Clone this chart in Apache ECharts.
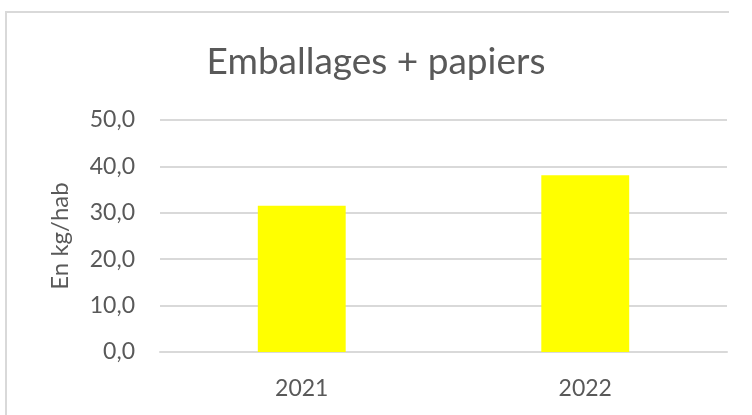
<!DOCTYPE html>
<html>
<head>
<meta charset="utf-8">
<script src="https://cdn.jsdelivr.net/npm/echarts@6/dist/echarts.min.js"></script>
<style>
  html, body { margin: 0; padding: 0; background: #fff; }
  #frame {
    position: absolute; left: 5px; top: 11px; width: 722px; height: 410px;
    border-left: 2px solid #d9d9d9; border-top: 2px solid #d9d9d9;
  }
  #chart { position: absolute; left: 0; top: 0; width: 752px; height: 415px; }
</style>
</head>
<body>
<div id="frame"></div>
<div id="chart"></div>
<script>
const years = ['2021', '2022'];
const kgPerHab = [31.5, 38.1];

const fmt = v => v.toFixed(1).replace('.', ',');

const chart = echarts.init(document.getElementById('chart'));
chart.setOption({
  animation: false,
  title: {
    text: 'Emballages + papiers',
    left: 'center',
    top: 39,
    textStyle: { fontFamily: 'Lato', fontSize: 37, fontWeight: 'normal', color: '#595959' }
  },
  grid: { left: 160, right: 25, top: 120, bottom: 63 },
  xAxis: {
    type: 'category',
    data: years,
    axisLine: { lineStyle: { color: '#d9d9d9', width: 2 } },
    axisTick: { show: false },
    axisLabel: { fontFamily: 'Lato', fontSize: 23, color: '#595959', margin: 25 }
  },
  yAxis: {
    type: 'value',
    min: 0,
    max: 50,
    interval: 10,
    name: 'En kg/hab',
    nameLocation: 'middle',
    nameGap: 88,
    nameTextStyle: { fontFamily: 'Lato', fontSize: 24, color: '#595959' },
    axisLine: { show: false },
    axisTick: { show: false },
    axisLabel: { fontFamily: 'Lato', fontSize: 23, color: '#595959', margin: 25, formatter: fmt },
    splitLine: { lineStyle: { color: '#d9d9d9', width: 2 } }
  },
  series: [{
    type: 'bar',
    data: kgPerHab,
    barWidth: '31%',
    itemStyle: { color: '#ffff00' }
  }]
});
</script>
</body>
</html>
